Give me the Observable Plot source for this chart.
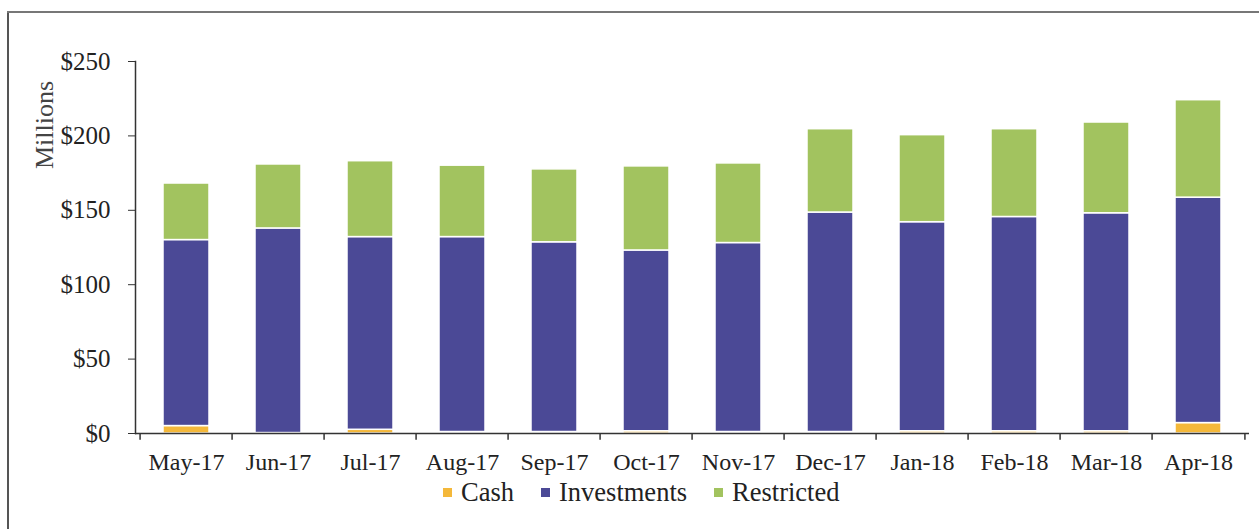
<!DOCTYPE html>
<html>
<head>
<meta charset="utf-8">
<script src="https://cdn.jsdelivr.net/npm/d3@7"></script>
<script src="https://cdn.jsdelivr.net/npm/@observablehq/plot@0.6"></script>
<style>
  html, body { margin: 0; padding: 0; background: #fff; }
  #wrap { position: relative; width: 1259px; height: 529px; overflow: hidden; font-family: "Liberation Serif", "Times New Roman", serif; }
  #chart { position: absolute; left: 0; top: 0; }
  .border-left { position: absolute; left: 7px; top: 11px; width: 1.5px; height: 520px; background: #555; }
  .border-top { position: absolute; left: 7px; top: 11px; width: 1252px; height: 1.5px; background: #777; }
  #ylabel { position: absolute; left: 45px; top: 125px; transform: translate(-50%, -50%) rotate(-90deg); font-size: 26px; color: #444; white-space: nowrap; }
  #legend { position: absolute; left: 443px; top: 477px; display: flex; gap: 27px; font-size: 26.5px; color: #222; align-items: center; font-family: "Liberation Serif", "Times New Roman", serif; }
  #legend .item { display: flex; align-items: center; gap: 9px; }
  #legend .sw { width: 9px; height: 9px; display: inline-block; }
</style>
</head>
<body>
<div id="wrap">
  <div class="border-left"></div>
  <div class="border-top"></div>
  <div id="chart"></div>
  <div id="ylabel">Millions</div>
  <div id="legend"></div>
</div>
<script>
const months = ["May-17","Jun-17","Jul-17","Aug-17","Sep-17","Oct-17","Nov-17","Dec-17","Jan-18","Feb-18","Mar-18","Apr-18"];
const seriesNames = ["Cash","Investments","Restricted"];
const cash        = [5, 0.3, 2.5, 1, 1, 1.5, 1, 1, 1.5, 1.5, 1.5, 7];
const investments = [125, 137.5, 129.5, 131, 127.5, 121.5, 127, 147.5, 140.5, 144, 146.5, 151.5];
const restricted  = [38, 43, 51, 48, 49, 56.5, 53.5, 56, 58.5, 59, 61, 65.5];
const yTicks = [0, 50, 100, 150, 200, 250];
const colors = ["#f4b83a", "#4b4996", "#a2c35f"];

const values = {Cash: cash, Investments: investments, Restricted: restricted};
const data = months.flatMap((m, i) => seriesNames.map(s => ({month: m, series: s, value: values[s][i]})));

const W = 1259, H = 475, ML = 135, MR = 10, MT = 61, MB = 42;
const step = (W - ML - MR) / months.length;

const chart = Plot.plot({
  width: W, height: H,
  marginLeft: ML, marginRight: MR, marginTop: MT, marginBottom: MB,
  style: {fontFamily: "'Liberation Serif', 'Times New Roman', serif", fontSize: "24px", color: "#222", background: "transparent", overflow: "visible"},
  x: {domain: months, paddingInner: 0.5, paddingOuter: 0.25, label: null},
  y: {domain: [0, 250], label: null},
  color: {domain: seriesNames, range: colors},
  marks: [
    Plot.barY(data, {x: "month", y: "value", fill: "series", order: seriesNames, stroke: "white", strokeWidth: 1.5}),
    Plot.frame({anchor: "left", stroke: "#333", strokeWidth: 1.5}),
    Plot.ruleY([0], {stroke: "#333", strokeWidth: 1.5}),
    Plot.ruleX(months, {x: d => d, y1: 0, y2: -4.5, dx: -step / 2, stroke: "#333", strokeWidth: 1.5}),
    Plot.ruleX([months[months.length - 1]], {x: d => d, y1: 0, y2: -4.5, dx: step / 2, stroke: "#333", strokeWidth: 1.5}),
    Plot.axisY({ticks: yTicks, tickFormat: d => "$" + d, tickSize: 7, tickPadding: 18, fontSize: 25, label: null, stroke: "#333"}),
    Plot.axisX({tickSize: 0, tickPadding: 19, fontSize: 24, label: null})
  ]
});
document.getElementById("chart").appendChild(chart);

const legend = document.getElementById("legend");
seriesNames.forEach((s, i) => {
  const item = document.createElement("div");
  item.className = "item";
  const sw = document.createElement("span");
  sw.className = "sw";
  sw.style.background = colors[i];
  const t = document.createElement("span");
  t.textContent = s;
  item.appendChild(sw);
  item.appendChild(t);
  legend.appendChild(item);
});
</script>
</body>
</html>
